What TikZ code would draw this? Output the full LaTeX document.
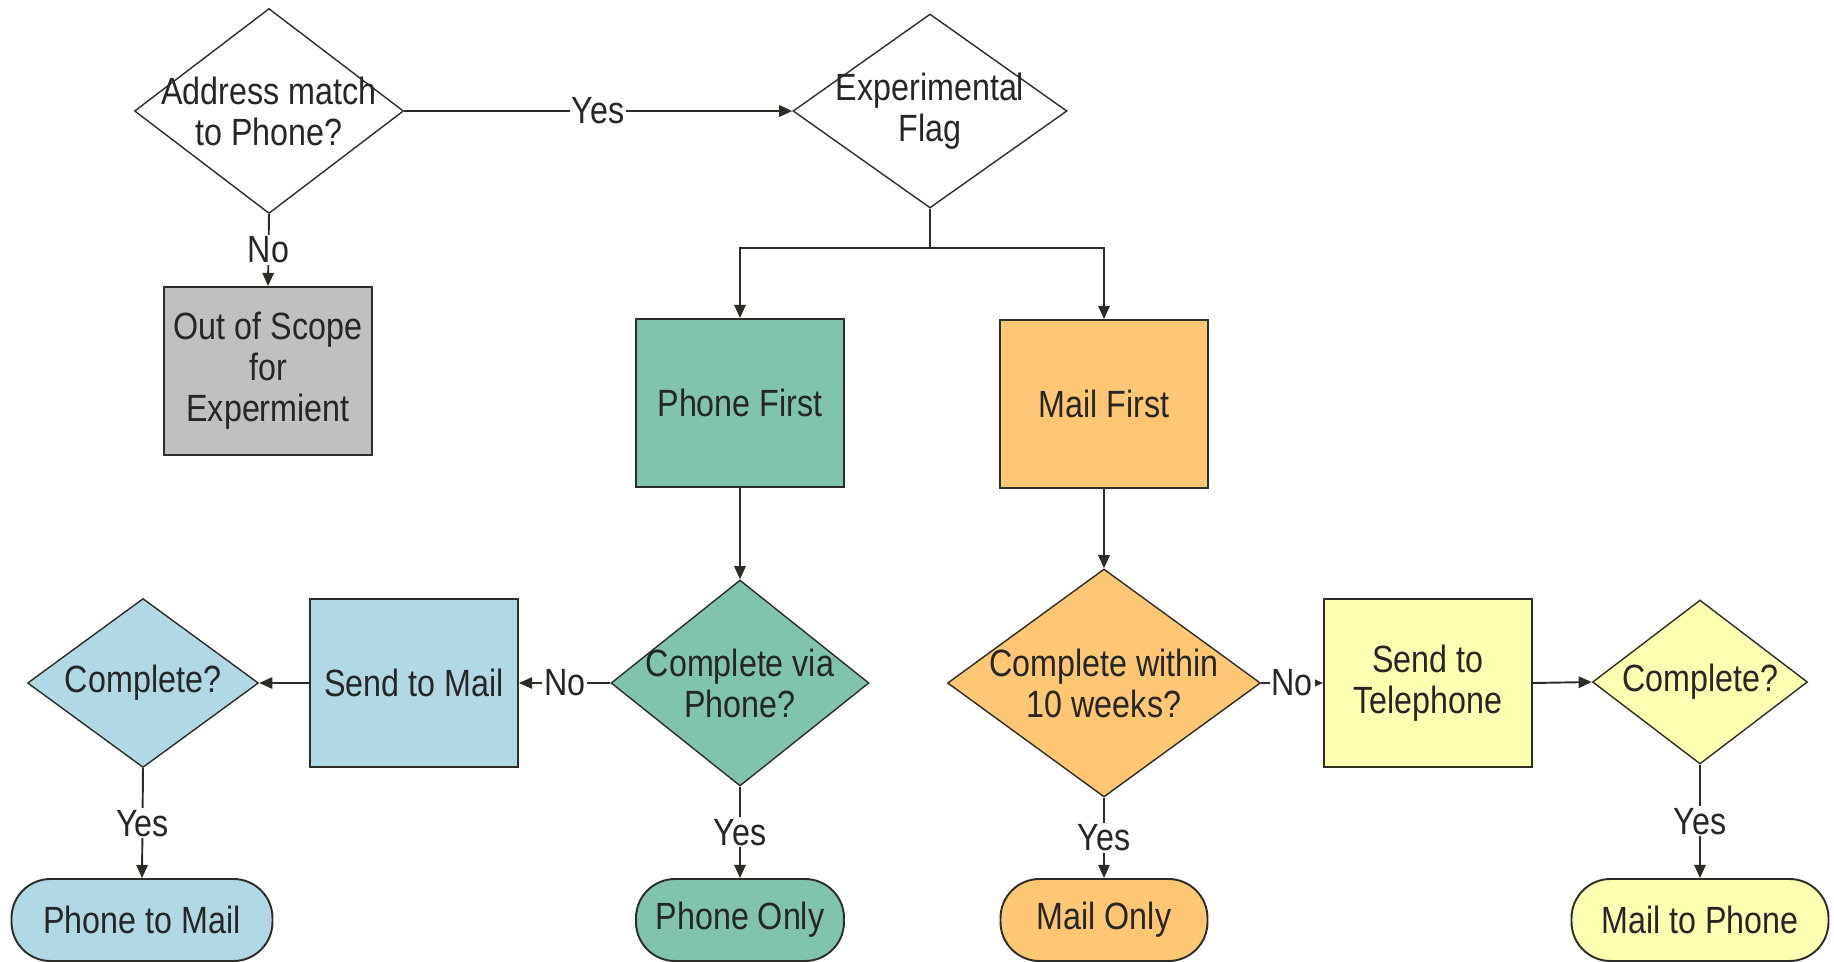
\documentclass[tikz,border=0pt]{standalone}
\usepackage{fontspec}
\setmainfont{Liberation Sans}[FakeStretch=0.85]
\definecolor{scopegray}{RGB}{192, 192, 192}
\definecolor{phonegreen}{RGB}{128, 196, 174}
\definecolor{mailorange}{RGB}{255, 199, 115}
\definecolor{mailblue}{RGB}{176, 217, 229}
\definecolor{telyellow}{RGB}{255, 255, 178}
\definecolor{edgegray}{RGB}{45, 45, 40}
\usetikzlibrary{shapes, arrows.meta, positioning, calc}

\begin{document}
\begin{tikzpicture}[
  font=\fontsize{21.6pt}{23.3pt}\selectfont,
  dbox/.style={diamond, draw=edgegray, line width=0.8pt, align=center, inner sep=-1.5cm, text=black!85},
  pbox/.style={rectangle, draw=edgegray, line width=1.1pt, align=center, minimum width=4.16cm, minimum height=3.36cm, text=black!85},
  tbox/.style={rectangle, rounded corners=0.78cm, draw=edgegray, line width=1.1pt, align=center, minimum height=1.64cm, text=black!85},
  conn/.style={draw=edgegray, line width=1.1pt, -{Triangle[length=7.5pt, width=6.5pt]}},
  lbl/.style={fill=white, inner sep=1pt, text=black!85}
]
  \useasboundingbox (0,0) rectangle (36.68,-19.22);

  % top row
  \node[dbox, minimum width=5.38cm, minimum height=4.10cm] (addr) at (5.38,-2.22) {Address match\\to Phone?};
  \node[dbox, minimum width=5.48cm, minimum height=3.88cm] (flag) at (18.60,-2.22) {Experimental\\Flag};
  \node[pbox, fill=scopegray] (scope) at (5.36,-7.42) {Out of Scope\\for\\Expermient};

  % the two arms
  \node[pbox, fill=phonegreen] (phfirst) at (14.80,-8.06) {Phone First};
  \node[pbox, fill=mailorange] (mlfirst) at (22.08,-8.08) {Mail First};

  % decisions and follow-ups
  \node[dbox, fill=phonegreen, minimum width=5.16cm, minimum height=4.12cm] (cvp) at (14.80,-13.66) {Complete via\\Phone?};
  \node[pbox, fill=mailblue] (sendmail) at (8.28,-13.66) {Send to Mail};
  \node[dbox, fill=mailblue, minimum width=4.62cm, minimum height=3.38cm] (cmpb) at (2.86,-13.66) {Complete?};
  \node[dbox, fill=mailorange, minimum width=6.26cm, minimum height=4.56cm] (cw10) at (22.08,-13.66) {Complete within\\10 weeks?};
  \node[pbox, fill=telyellow] (sendtel) at (28.56,-13.66) {Send to\\Telephone};
  \node[dbox, fill=telyellow, minimum width=4.30cm, minimum height=3.28cm] (cmpy) at (34.00,-13.64) {Complete?};

  % end states
  \node[tbox, fill=mailblue, minimum width=5.22cm] (ptm) at (2.84,-18.40) {Phone to Mail};
  \node[tbox, fill=phonegreen, minimum width=4.16cm] (phonly) at (14.80,-18.40) {Phone Only};
  \node[tbox, fill=mailorange, minimum width=4.14cm] (mlonly) at (22.08,-18.40) {Mail Only};
  \node[tbox, fill=telyellow, minimum width=5.14cm] (mtp) at (34.00,-18.40) {Mail to Phone};

  % connectors
  \draw[conn] (addr.east) -- node[lbl] {Yes} (flag.west);
  \draw[conn] (addr.south) -- node[lbl] {No} (scope.north);
  \coordinate (split) at (18.60,-4.96);
  \draw[conn, -] (flag.south) -- (split);
  \draw[conn] (split) -| (phfirst.north);
  \draw[conn] (split) -| (mlfirst.north);
  \draw[conn] (phfirst.south) -- (cvp.north);
  \draw[conn] (mlfirst.south) -- (cw10.north);
  \draw[conn] (cvp.west) -- node[lbl] {No} (sendmail.east);
  \draw[conn] (sendmail.west) -- (cmpb.east);
  \draw[conn] (cmpb.south) -- node[lbl] {Yes} (ptm.north);
  \draw[conn] (cvp.south) -- node[lbl] {Yes} (phonly.north);
  \draw[conn] (cw10.east) -- node[lbl] {No} (sendtel.west);
  \draw[conn] (sendtel.east) -- (cmpy.west);
  \draw[conn] (cw10.south) -- node[lbl] {Yes} (mlonly.north);
  \draw[conn] (cmpy.south) -- node[lbl] {Yes} (mtp.north);
\end{tikzpicture}
\end{document}
